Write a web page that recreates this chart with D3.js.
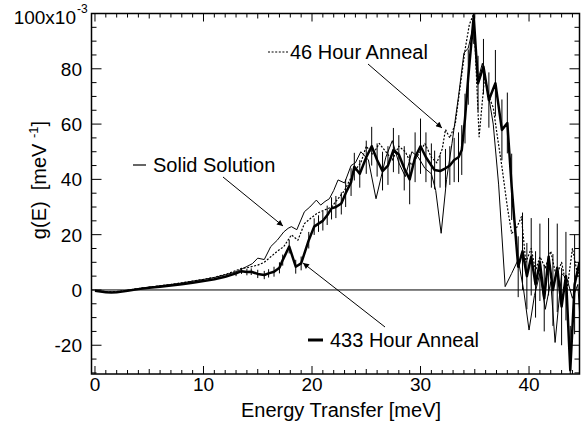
<!DOCTYPE html>
<html><head><meta charset="utf-8">
<script src="https://cdn.jsdelivr.net/npm/d3@7"></script>
<style>body{margin:0;background:#fff}svg{display:block}text{font-family:"Liberation Sans",Arial,sans-serif;fill:#000;white-space:pre}</style>
</head><body>
<svg id="c" width="582" height="430"></svg>
<script>
// ---- data ----
const xTicks = [0, 10, 20, 30, 40];
const yTicks = [-20, 0, 20, 40, 60, 80, 100];
const yTickLabels = ["-20", "0", "20", "40", "60", "80", "100x10"];

const solidE = [0,0.5,1,1.5,2,2.5,3,4,5,6,7,8,9,10,11,12,13,13.5,14,14.5,15,15.6,16.2,16.8,17.4,17.8,18.1,18.6,19.3,19.8,20.4,20.8,21.2,21.6,22,22.4,23,23.6,24,24.5,25.2,25.9,26.8,27.4,28,28.6,29.2,29.8,30.4,31,31.4,31.9,32.4,32.9,33.5,34,34.4,34.9,35.3,35.7,36.2,36.7,37.2,37.8,38.4,39,39.5,40,40.5,41,41.5,42,42.4,43,43.5,44,44.5,44.65];
const solidV = [-0.2,-0.5,-0.7,-0.8,-0.7,-0.5,-0.2,0.5,1,1.5,2,2.5,3.2,3.8,4.5,5.5,6.5,7.5,8.5,9.5,11.5,11,15.7,18,21,22.3,22.9,21.8,28.3,30,32.5,30.7,32,33,36,39.8,38.7,45,46,50,47,33,48,54,46,41,50,48,44,42,36,20.5,40,53,70,85.7,87.5,96,76,82,72,60,38,1.2,6,11,0,-14.5,-2,6,-7,3,-19,6,4,-3,2,-8];

const h46E = [0,0.5,1,1.5,2,2.5,3,4,5,6,7,8,9,10,11,12,13,13.5,14,14.5,15,15.6,16.2,16.8,17.4,18.1,18.7,19.3,19.9,20.5,21.2,21.8,22.4,23,23.9,24.5,25,25.6,26.2,26.8,27.4,28,28.6,29.2,29.8,30.4,31,31.5,32,32.3,32.7,33.2,33.6,34.1,34.5,34.9,35.4,35.9,36.3,36.7,37.1,37.5,38,38.4,38.8,39.3,39.7,40.2,40.6,41,41.5,42,42.5,43,43.5,44,44.5,44.65];
const h46V = [-0.2,-0.4,-0.6,-0.7,-0.6,-0.4,-0.1,0.5,1,1.5,2,2.6,3.2,3.8,4.6,5.6,7,7.8,8,8.5,9,10,12,14,15.7,19.9,18,24,26,27.8,29,30,33,36,43,46,52,49,53,50,47,52,50,45,49,53,48,46,51,58,55,60,72,86.8,96,100,55.4,77,70,66,55,44.6,30,20.5,22,26.5,10,15,7,12,8,14,5,10,0,15,5,8];

const h433E = [0,0.5,1,1.5,2,2.5,3,4,5,6,7,8,9,10,11,12,13,13.5,14,14.4,15,15.6,16,16.5,17,17.3,17.9,18.5,19,19.7,20.2,20.6,21,21.4,21.8,22.2,22.7,23.1,23.6,23.9,24.4,25,25.5,26,26.5,27,27.5,28,28.5,29,29.5,30,30.5,31,31.3,31.8,32.3,32.7,33.1,33.5,33.8,34.1,34.4,34.9,35.3,35.8,36.3,36.9,37.5,38,38.4,39,39.4,39.8,40.2,40.6,41,41.4,41.8,42.2,42.6,43,43.4,43.8,44.2,44.65];
const h433V = [-0.3,-0.6,-0.8,-0.9,-0.8,-0.6,-0.3,0.3,0.8,1.2,1.6,2.1,2.6,3.2,3.9,4.8,6,6.8,6.5,6.6,5.8,5.4,6,6.6,8,10.8,15.7,8.4,9.6,18,22.9,24,25,27,29.5,30,31.3,35,39,44.6,42,48,52,47,43,45,50.6,49,44,40,48,52,48,45,43.4,43,44,45,47,48,50.6,62,77,99,74.7,80.8,68.7,74.8,57.9,60.4,37.3,8.4,14,5,12,2,10,-3,12,0,8,-6,5,-29,2,10];
const h433Err = [0,0,0,0,0,0,0,0,0,0,0,0,0,0,0,0,1,1,1.2,1.2,1.5,1.5,1.5,1.8,2,2,2.5,2.5,2.5,3,3,3,3.5,3.5,4,4,4,5,5,5,5,6,7,6,7,7,8,7,8,9,9,10,9,8,7,6,7,7,8,9,9,9,10,10,10,10,10,12,11,11,12,11,14,12,14,12,14,12,14,13,16,14,16,16,18,18];

// ---- layout ----
const svg = d3.select("#c");
const L = 91.5, R = 579.5, T = 13.5, B = 374;
const x = d3.scaleLinear().domain([-0.32, 44.65]).range([L, R]);
const y = d3.scaleLinear().domain([-30.4, 100]).range([B, T]);

svg.append("clipPath").attr("id","pc").append("rect")
  .attr("x", L).attr("y", T).attr("width", R - L).attr("height", B - T);

// zero line
svg.append("line").attr("x1", L).attr("x2", R).attr("y1", y(0)).attr("y2", y(0))
  .attr("stroke", "#000").attr("stroke-width", 1);

const g = svg.append("g").attr("clip-path", "url(#pc)");
const line = d3.line().x(d => x(d[0])).y(d => y(d[1]));
function series(E, V, Err, opts) {
  const pts = E.map((e, i) => [e, V[i]]);
  if (Err) {
    g.append("g").selectAll("line").data(E.map((e,i)=>[e,V[i],Err[i]]).filter(d=>d[2]>0))
      .join("line")
      .attr("x1", d => x(d[0])).attr("x2", d => x(d[0]))
      .attr("y1", d => y(d[1] - d[2])).attr("y2", d => y(d[1] + d[2]))
      .attr("stroke", "#000").attr("stroke-width", 1);
  }
  g.append("path").datum(pts).attr("d", line).attr("fill", "none")
    .attr("stroke", "#000").attr("stroke-width", opts.w)
    .attr("stroke-dasharray", opts.dash || null).attr("stroke-linejoin","round");
}
series(solidE, solidV, null, {w: 1});
series(h46E, h46V, null, {w: 1.2, dash: "2,1.6"});
series(h433E, h433V, h433Err, {w: 2.5});

// ticks (inward, all four sides)
const xMinor = d3.range(0, 45, 1);
const yMinor = d3.range(-30, 101, 5);
const ax = svg.append("g").attr("stroke", "#000").attr("stroke-width", 1);
xMinor.forEach(v => {
  const len = v % 10 === 0 ? 8 : (v % 5 === 0 ? 5 : 4);
  ax.append("line").attr("x1", x(v)).attr("x2", x(v)).attr("y1", B).attr("y2", B - len);
  ax.append("line").attr("x1", x(v)).attr("x2", x(v)).attr("y1", T).attr("y2", T + len);
});
yMinor.forEach(v => {
  const len = v % 20 === 0 ? 10 : 5;
  ax.append("line").attr("x1", L).attr("x2", L + len).attr("y1", y(v)).attr("y2", y(v));
  ax.append("line").attr("x1", R).attr("x2", R - len).attr("y1", y(v)).attr("y2", y(v));
});
svg.append("rect").attr("x", L).attr("y", T).attr("width", R - L).attr("height", B - T)
  .attr("fill", "none").attr("stroke", "#000").attr("stroke-width", 1.5);

// tick labels
const FS = 19;
svg.append("g").selectAll("text").data(xTicks).join("text")
  .attr("x", d => x(d)).attr("y", 391).attr("text-anchor", "middle")
  .attr("font-size", FS).text(d => d);
svg.append("g").selectAll("text").data(yTicks).join("text")
  .attr("x", (d) => d === 100 ? 76 : 82).attr("y", d => d === 100 ? 24 : y(d) + 7).attr("text-anchor", "end")
  .attr("font-size", FS).text((d, i) => yTickLabels[i]);
svg.append("text").attr("x", 77).attr("y", 13).attr("font-size", 12).text("-3");

// axis titles
svg.append("text").attr("x", 341).attr("y", 417).attr("text-anchor", "middle")
  .attr("font-size", 20).text("Energy Transfer [meV]");
const yl = svg.append("text").attr("transform", "translate(46,180) rotate(-90)")
  .attr("text-anchor", "middle").attr("font-size", 20);
yl.append("tspan").text("g(E)  [meV ");
yl.append("tspan").attr("font-size", 13).attr("dy", -8).text("-1");
yl.append("tspan").attr("dy", 8).text("]");

// annotations
const defs = svg.append("defs");
defs.append("marker").attr("id", "ah").attr("viewBox", "0 0 10 10").attr("refX", 10).attr("refY", 5)
  .attr("markerWidth", 10).attr("markerHeight", 6).attr("orient", "auto")
  .attr("markerUnits","userSpaceOnUse")
  .append("path").attr("d", "M0,0 L10,5 L0,10 z").attr("fill", "#000");
function arrow(x1, y1, x2, y2) {
  svg.append("line").attr("x1", x1).attr("y1", y1).attr("x2", x2).attr("y2", y2)
    .attr("stroke", "#000").attr("stroke-width", 1).attr("marker-end", "url(#ah)");
}
const AF = 20;
// 46 Hour
svg.append("line").attr("x1", 268).attr("x2", 288).attr("y1", 52).attr("y2", 52)
  .attr("stroke", "#000").attr("stroke-dasharray", "2,1.6").attr("stroke-width", 1.2);
svg.append("text").attr("x", 290).attr("y", 59).attr("font-size", AF).text("46 Hour Anneal");
arrow(368, 64, 442, 128);
// Solid Solution
svg.append("line").attr("x1", 133).attr("x2", 146).attr("y1", 165).attr("y2", 165)
  .attr("stroke", "#000").attr("stroke-width", 1.2);
svg.append("text").attr("x", 153).attr("y", 172).attr("font-size", AF).text("Solid Solution");
arrow(223, 177, 283, 226);
// 433 Hour
svg.append("line").attr("x1", 308).attr("x2", 323).attr("y1", 340).attr("y2", 340)
  .attr("stroke", "#000").attr("stroke-width", 3);
svg.append("text").attr("x", 330).attr("y", 347).attr("font-size", AF).text("433 Hour Anneal");
arrow(385, 327, 303, 263);
</script>
</body></html>
